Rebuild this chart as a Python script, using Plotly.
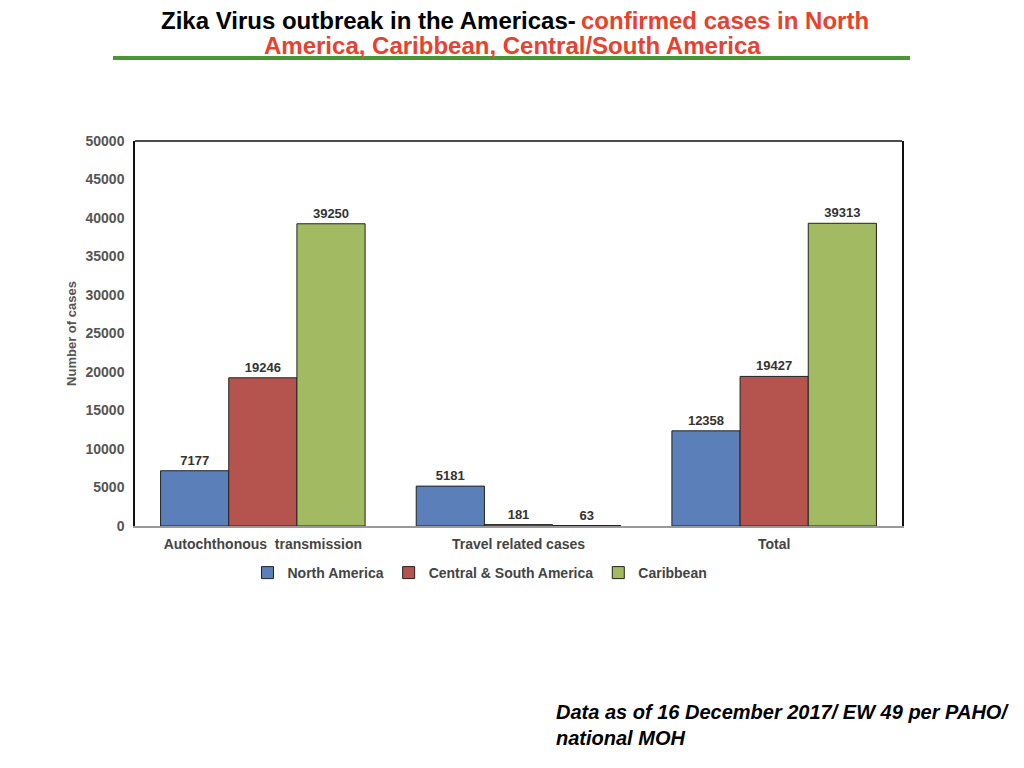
import plotly.graph_objects as go

categories = ["Autochthonous  transmission", "Travel related cases", "Total"]
north_america = [7177, 5181, 12358]
central_south_america = [19246, 181, 19427]
caribbean = [39250, 63, 39313]
y_ticks = list(range(0, 50001, 5000))

W, H = 1024, 768
FONT = "Liberation Sans"

# the page body has an 8px margin; map screen px to paper
OFF_X, OFF_Y = 8, 8


def px_x(v):
    return (v - OFF_X) / W


def px_y(v):
    return 1 - (v - OFF_Y) / H


series = [
    ("North America", north_america, "#5a7fb9"),
    ("Central & South America", central_south_america, "#b5534f"),
    ("Caribbean", caribbean, "#a2bb63"),
]

fig = go.Figure()
for name, vals, col in series:
    fig.add_trace(go.Bar(
        x=categories, y=vals, name=name,
        marker=dict(color=col, line=dict(color="#222222", width=1)),
        text=[str(v) for v in vals], textposition="outside",
        textfont=dict(family=FONT, size=13, color="#333333", weight="bold"),
        cliponaxis=False,
    ))

fig.update_layout(
    width=W, height=H,
    margin=dict(l=0, r=0, t=0, b=0, autoexpand=False),
    paper_bgcolor="white", plot_bgcolor="white",
    barmode="group", bargap=0.2, bargroupgap=0,
    font=dict(family=FONT),
    xaxis=dict(
        domain=[px_x(135), px_x(902)], automargin=False,
        showline=True, linecolor="#999999", linewidth=2,
        showgrid=False, ticks="", ticklabelstandoff=4,
        tickfont=dict(size=14, color="#444444", weight="bold"),
    ),
    yaxis=dict(
        domain=[px_y(526), px_y(141)], automargin=False,
        range=[0, 50000], tickvals=y_ticks, tickformat="d",
        showline=True, mirror=True, linecolor="#111111", linewidth=1.5,
        showgrid=False, zeroline=False, ticks="", ticklabelstandoff=6,
        tickfont=dict(size=14, color="#555555", weight="bold"),
        title=dict(text="Number of cases", standoff=6,
                   font=dict(size=13, color="#555555", weight="bold")),
    ),
    legend=dict(
        orientation="h", x=px_x(480), xanchor="center", y=px_y(573), yanchor="middle",
        font=dict(size=14, color="#444444", weight="bold"),
        itemwidth=30, traceorder="normal",
    ),
    showlegend=True,
)

# top border of the plot box
fig.add_shape(type="line", xref="paper", yref="paper",
              x0=px_x(135), x1=px_x(902), y0=px_y(141), y1=px_y(141),
              line=dict(color="#111111", width=1.5))

# green rule under the title
fig.add_shape(type="line", xref="paper", yref="paper",
              x0=px_x(113), x1=px_x(910), y0=px_y(58), y1=px_y(58),
              line=dict(color="#4a9636", width=4))

red = "#e8412c"
title_font = dict(family=FONT, size=24, weight="bold")
fig.add_annotation(
    xref="paper", yref="paper", x=px_x(577), y=px_y(20), xanchor="right", yanchor="middle",
    text="Zika Virus outbreak in the Americas-",
    showarrow=False, borderpad=0, font=dict(color="black", **title_font),
)
fig.add_annotation(
    xref="paper", yref="paper", x=px_x(580), y=px_y(20), xanchor="left", yanchor="middle",
    text="confirmed cases in North",
    showarrow=False, borderpad=0, font=dict(color=red, **title_font),
)
fig.add_annotation(
    xref="paper", yref="paper", x=px_x(512), y=px_y(45), yanchor="middle",
    text="America, Caribbean, Central/South America",
    showarrow=False, borderpad=0, font=dict(color=red, **title_font),
)

fig.add_annotation(
    xref="paper", yref="paper", x=px_x(554), y=px_y(725), xanchor="left", yanchor="middle",
    text="<b><i>Data as of 16 December 2017/ EW 49 per PAHO/<br>national MOH</i></b>",
    align="left", showarrow=False,
    font=dict(family=FONT, size=20, color="black"),
)

fig.write_html("out.html")
